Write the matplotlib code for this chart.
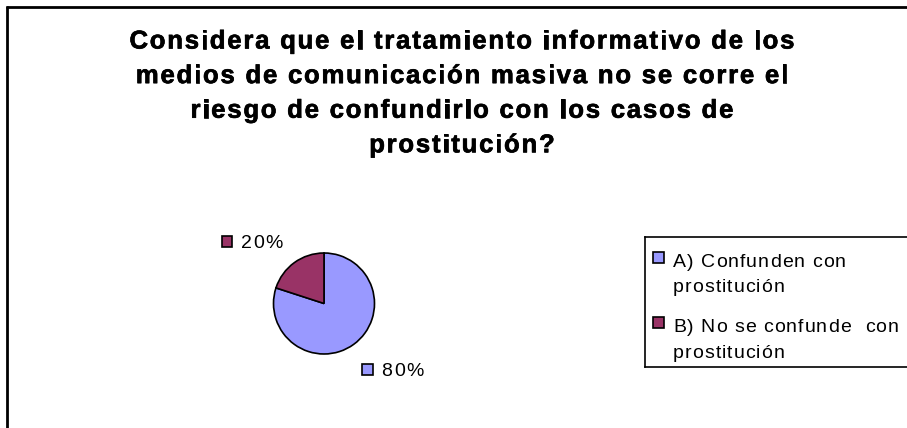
import matplotlib
matplotlib.use("Agg")
import matplotlib.pyplot as plt
import matplotlib.patheffects as pe
from matplotlib.lines import Line2D
from matplotlib.patches import Rectangle
from matplotlib.font_manager import FontProperties

# Chart data
categories = [["A) Confunden con", "prostitución"],
              ["B) No se confunde  con", "prostitución"]]
values = [80, 20]
colors = ["#9999FF", "#993366"]
title_lines = ["Considera que el tratamiento informativo de los",
               "medios de comunicación masiva no se corre el",
               "riesgo de confundirlo con los casos de",
               "prostitución?"]

FAMILY = "Liberation Sans"
plt.rcParams['font.family'] = [FAMILY, 'DejaVu Sans']

W, H = 907, 428
DPI = 100
fig = plt.figure(figsize=(W / DPI, H / DPI), dpi=DPI)
renderer = fig.canvas.get_renderer()


# helpers to work in pixel coords (origin top-left)
def fx(px):
    return px / W


def fy(py):
    return 1 - py / H


def advances(s, size, weight):
    # advance width of each char in pixels, measured between two bars
    prop = FontProperties(family=FAMILY, weight=weight, size=size)
    wid = lambda t: renderer.get_text_width_height_descent(t, prop, ismath=False)[0]
    base = wid("||")
    return [wid("|" + ch + "|") - base for ch in s]


def tracked_text(x, y, s, size, weight="normal", track=0.0, ha="left", effects=None):
    # Excel style text with extra letter spacing, drawn char by char
    adv = advances(s, size, weight)
    total = sum(adv) + track * (len(s) - 1)
    if ha == "center":
        x -= total / 2
    for ch, a in zip(s, adv):
        if ch != " ":
            t = fig.text(fx(x), fy(y), ch, ha="left", va="baseline",
                         fontsize=size, fontweight=weight)
            if effects:
                t.set_path_effects(effects)
        x += a + track


# chart frame (cut off at right and bottom)
fig.add_artist(Line2D([fx(6), fx(W + 5)], [fy(7), fy(7)], color="black",
                      lw=2.0, solid_capstyle="butt"))
fig.add_artist(Line2D([fx(7), fx(7)], [fy(6), fy(H + 5)], color="black",
                      lw=2.0, solid_capstyle="butt"))

# title
t_size = 18.5
w1 = sum(advances(title_lines[0], t_size, "bold"))
t_track = max((665 - w1) / (len(title_lines[0]) - 1), 0)
heavy = [pe.withStroke(linewidth=0.5, foreground="black")]
for i, line in enumerate(title_lines):
    tracked_text(462, 48.5 + 34.6 * i, line, t_size, "bold", t_track,
                 ha="center", effects=heavy)

# pie
cx, cy, r = 324, 303.5, 51.5
ax = fig.add_axes([fx(cx - r), fy(cy + r), (2 * r) / W, (2 * r) / H])
wedges, _ = ax.pie(values, colors=colors, startangle=90, counterclock=False,
                   wedgeprops=dict(edgecolor="black", linewidth=1.2))
ax.set_xlim(-1.02, 1.02)
ax.set_ylim(-1.02, 1.02)
ax.set_aspect("equal")
ax.axis("off")

# data labels
l_size = 14
label_pos = [(367.5, 369), (227, 241)]
for (px, py), v, c in zip(label_pos, values, colors):
    fig.add_artist(Rectangle((fx(px - 5.5), fy(py + 5.5)), 11 / W, 11 / H,
                             facecolor=c, edgecolor="black", lw=1.2))
    tracked_text(px + 14, py + 7.5, f"{v}%", l_size, track=1.5)

# legend box
for xs, ys in [([645, W + 5], [237, 237]), ([645, W + 5], [367, 367]),
               ([645, 645], [237, 367])]:
    fig.add_artist(Line2D([fx(v) for v in xs], [fy(v) for v in ys],
                          color="black", lw=1.2))
legend_y = [257.5, 322.5]
for ly, lab, c in zip(legend_y, categories, colors):
    fig.add_artist(Rectangle((fx(653), fy(ly + 5.5)), 11 / W, 11 / H,
                             facecolor=c, edgecolor="black", lw=1.2))
    for j, part in enumerate(lab):
        tracked_text(673, ly + 9.5 + 25.5 * j, part, l_size, track=1.0)

fig.savefig("out.png", dpi=DPI)
